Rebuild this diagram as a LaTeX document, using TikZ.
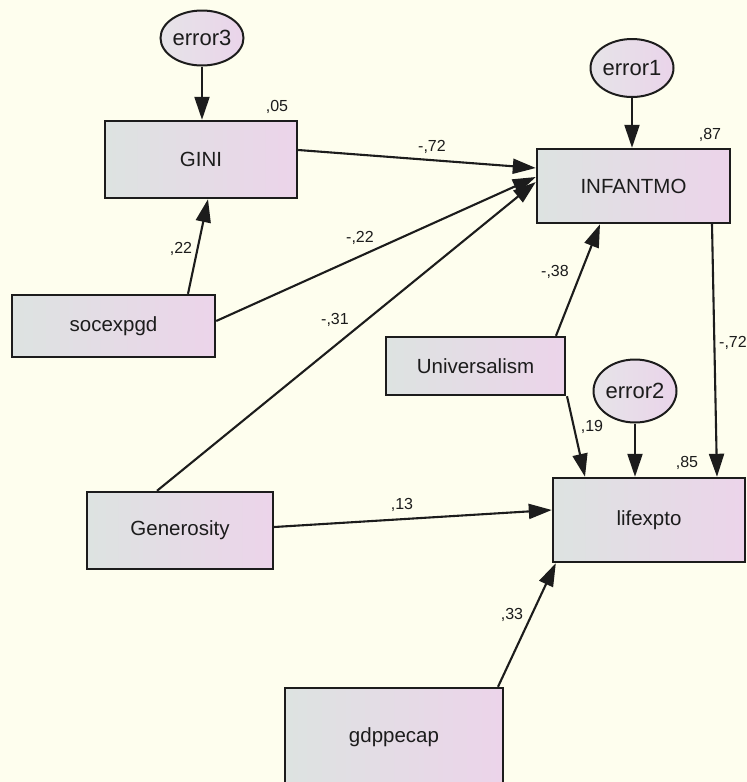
\documentclass[tikz,border=0pt]{standalone}
\usepackage{fontspec}
\setmainfont{Liberation Sans}
\usetikzlibrary{arrows.meta,shapes.geometric}

\definecolor{bg}{RGB}{254,254,238}
\definecolor{shadel}{RGB}{221,227,225}
\definecolor{shader}{RGB}{236,212,234}
\definecolor{errl}{RGB}{230,228,232}
\definecolor{errr}{RGB}{234,212,234}
\definecolor{ink}{RGB}{28,28,28}

\tikzstyle{observed}=[draw=ink,line width=2.4pt,left color=shadel,right color=shader,inner sep=0pt,text=ink,font=\fontsize{20.5}{24}\selectfont]
\tikzstyle{error}=[draw=ink,line width=2pt,ellipse,left color=errl,right color=errr,inner sep=0pt,text=ink,font=\fontsize{22}{24}\selectfont]
\tikzstyle{coef}=[inner sep=0pt,text=ink,font=\fontsize{16}{19}\selectfont]
\tikzstyle{effect}=[draw=ink,line width=2.1pt,-{Triangle[length=23pt,width=15pt]}]

\begin{document}
\begin{tikzpicture}[x=1pt,y=-1pt]
  \useasboundingbox (0,0) rectangle (747,782);
  \fill[bg] (0,0) rectangle (747,782);

  \node (gini)[observed,minimum width=192pt,minimum height=77pt] at (201,159.5) {GINI};
  \node (infant)[observed,minimum width=193pt,minimum height=74pt] at (633.5,186) {INFANTMO};
  \node (socexp)[observed,minimum width=203pt,minimum height=62pt] at (113.5,326) {socexpgd};
  \node (univ)[observed,minimum width=179pt,minimum height=58pt] at (475.5,366) {Universalism};
  \node (gener)[observed,minimum width=186pt,minimum height=77pt] at (180,530.5) {Generosity};
  \node (lifexp)[observed,minimum width=192pt,minimum height=84pt] at (649,520) {lifexpto};
  \node (gdp)[observed,minimum width=218pt,minimum height=98pt] at (394,737) {gdppecap};

  \node (e3)[error,minimum width=64pt,minimum height=55pt] at (202,38) {error3};
  \node (e1)[error,minimum width=62pt,minimum height=58pt] at (632,68) {error1};
  \node (e2)[error,minimum width=70pt,minimum height=63pt] at (635,391) {error2};

    \draw[effect] (e3) -- (e3 |- gini.north);
    \draw[effect] (e1) -- (e1 |- infant.north);
    \draw[effect] (e2) -- (e2 |- lifexp.north);

    \draw[effect] ([yshift=9.5pt]gini.east) -- ([yshift=18pt]infant.west);
    \draw[effect] ([yshift=5pt]socexp.east) -- ([yshift=9pt]infant.west);
    \draw[effect] ([xshift=-23pt]gener.north) -- ([yshift=4pt]infant.west);
    \draw[effect] ([xshift=74.5pt]socexp.north) -- ([xshift=7pt]gini.south);
    \draw[effect] ([xshift=80.5pt]univ.north) -- ([xshift=-33.5pt]infant.south);
    \draw[effect] ([xshift=91.5pt]univ.south) -- ([xshift=-64pt]lifexp.north);
    \draw[effect] ([xshift=78.5pt]infant.south) -- ([xshift=68pt]lifexp.north);
    \draw[effect] ([yshift=3.5pt]gener.east) -- ([yshift=10pt]lifexp.west);
    \draw[effect] ([xshift=104pt]gdp.north) -- ([xshift=4pt]lifexp.south west);

  \node (r2gini)[coef] at (277,107) {,05};
  \node (r2infant)[coef] at (710,135) {,87};
  \node (r2lifexp)[coef] at (687,463) {,85};
  \node (cgini)[coef] at (432,147) {-,72};
  \node (csocgini)[coef] at (181,249) {,22};
  \node (csocinf)[coef] at (360,238) {-,22};
  \node (cgenerinf)[coef] at (335,320) {-,31};
  \node (cunivinf)[coef] at (555,272) {-,38};
  \node (cinflife)[coef] at (733,343) {-,72};
  \node (cunivlife)[coef] at (592,427) {,19};
  \node (cgenerlife)[coef] at (402,505) {,13};
  \node (cgdplife)[coef] at (512,615) {,33};
\end{tikzpicture}
\end{document}
